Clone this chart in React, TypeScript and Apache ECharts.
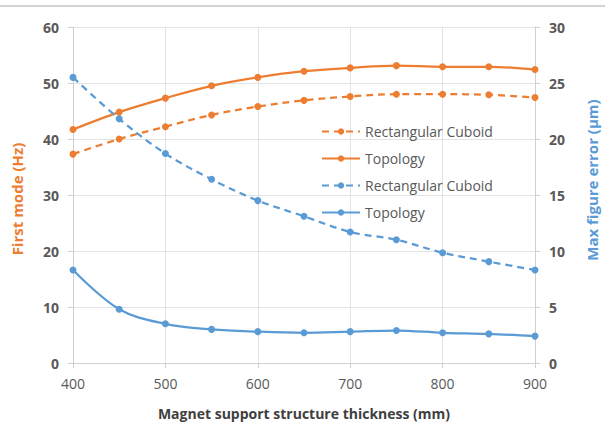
import React, { useEffect, useRef } from "react";
import * as echarts from "echarts";

const thickness = [400, 450, 500, 550, 600, 650, 700, 750, 800, 850, 900];
const cuboidFrequency = [37.3, 40.0, 42.2, 44.3, 45.8, 46.9, 47.6, 48.0, 48.0, 47.9, 47.4];
const topologyFrequency = [41.7, 44.8, 47.3, 49.5, 51.0, 52.1, 52.7, 53.1, 52.9, 52.9, 52.4];
const cuboidError = [25.5, 21.8, 18.7, 16.4, 14.5, 13.1, 11.7, 11.0, 9.85, 9.05, 8.3];
const topologyError = [8.3, 4.8, 3.5, 3.0, 2.8, 2.7, 2.8, 2.9, 2.7, 2.6, 2.4];

const legendLabels: Record<string, string> = {
  cuboidHz: "Rectangular Cuboid",
  topologyHz: "Topology",
  cuboidErr: "Rectangular Cuboid",
  topologyErr: "Topology",
};

const xTitle = "Magnet support structure thickness (mm)";
const leftTitle = "First mode (Hz)";
const rightTitle = "Max figure error (μm)";

const ORANGE = "#ED7D31";
const BLUE = "#5B9BD5";
const FONT = '"Open Sans", "Noto Sans", sans-serif';

export default function App() {
  const ref = useRef<HTMLDivElement>(null);

  useEffect(() => {
    if (!ref.current) return;
    const chart = echarts.init(ref.current, undefined, { renderer: "svg" });
    const pairs = (ys: number[]) => thickness.map((x, i) => [x, ys[i]]);
    const mkSeries = (name: string, ys: number[], color: string, dashed: boolean, yAxisIndex: number) => ({
      name,
      type: "line",
      yAxisIndex,
      data: pairs(ys),
      smooth: 0.35,
      symbol: "circle",
      symbolSize: 7,
      showSymbol: true,
      itemStyle: { color },
      lineStyle: { color, width: 2.25, type: dashed ? [7, 5] : "solid" },
      z: 3,
    });

    chart.setOption({
      animation: false,
      textStyle: { fontFamily: FONT },
      grid: { left: 73, right: 70, top: 27, bottom: 64, containLabel: false },
      legend: {
        orient: "vertical",
        left: 316,
        top: 117,
        itemWidth: 38,
        itemHeight: 8,
        itemGap: 8,
        data: ["cuboidHz", "topologyHz", "cuboidErr", "topologyErr"],
        formatter: (name: string) => legendLabels[name],
        textStyle: { fontSize: 14, color: "#595959", fontFamily: FONT, lineHeight: 19 },
      },
      xAxis: {
        type: "value",
        min: 400,
        max: 900,
        interval: 100,
        axisLine: { show: true, lineStyle: { color: "#d0d0d0" } },
        axisTick: { show: true, length: 5, lineStyle: { color: "#d0d0d0" } },
        axisLabel: { fontSize: 14, color: "#595959", margin: 13, fontFamily: FONT },
        splitLine: { show: true, lineStyle: { color: "#e3e3e3" } },
      },
      yAxis: [
        {
          type: "value",
          min: 0,
          max: 60,
          interval: 10,
          position: "left",
          axisLine: { show: true, lineStyle: { color: "#d0d0d0" } },
          axisTick: { show: true, length: 5, lineStyle: { color: "#d0d0d0" } },
          axisLabel: { fontSize: 14, fontWeight: "bold", color: "#595959", margin: 14, fontFamily: FONT },
          splitLine: { show: true, lineStyle: { color: "#e3e3e3" } },
        },
        {
          type: "value",
          min: 0,
          max: 30,
          interval: 5,
          position: "right",
          axisLine: { show: true, lineStyle: { color: "#d0d0d0" } },
          axisTick: { show: true, length: 5, lineStyle: { color: "#d0d0d0" } },
          axisLabel: { fontSize: 14, fontWeight: "bold", color: "#595959", margin: 14, fontFamily: FONT },
          splitLine: { show: false },
        },
      ],
      graphic: [
        {
          type: "line",
          shape: { x1: 0, y1: 6, x2: 605, y2: 6 },
          style: { stroke: "#d4d4d4", lineWidth: 2 },
        },
        {
          type: "text",
          x: 304,
          y: 413,
          style: {
            text: xTitle,
            fontSize: 14,
            fontWeight: "bold",
            fontFamily: FONT,
            fill: "#404040",
            align: "center",
            verticalAlign: "middle",
          },
        },
        {
          type: "text",
          x: 17,
          y: 199,
          rotation: Math.PI / 2,
          style: {
            text: leftTitle,
            fontSize: 15,
            fontWeight: "bold",
            fontFamily: FONT,
            fill: ORANGE,
            align: "center",
            verticalAlign: "middle",
          },
        },
        {
          type: "text",
          x: 592,
          y: 180,
          rotation: Math.PI / 2,
          style: {
            text: rightTitle,
            fontSize: 15,
            fontWeight: "bold",
            fontFamily: FONT,
            fill: BLUE,
            align: "center",
            verticalAlign: "middle",
          },
        },
      ],
      series: [
        mkSeries("cuboidHz", cuboidFrequency, ORANGE, true, 0),
        mkSeries("topologyHz", topologyFrequency, ORANGE, false, 0),
        mkSeries("cuboidErr", cuboidError, BLUE, true, 1),
        mkSeries("topologyErr", topologyError, BLUE, false, 1),
      ],
    });
    return () => chart.dispose();
  }, []);

  return (
    <div
      ref={ref}
      style={{ position: "absolute", left: 0, top: 0, width: 605, height: 427, background: "#ffffff" }}
    />
  );
}
